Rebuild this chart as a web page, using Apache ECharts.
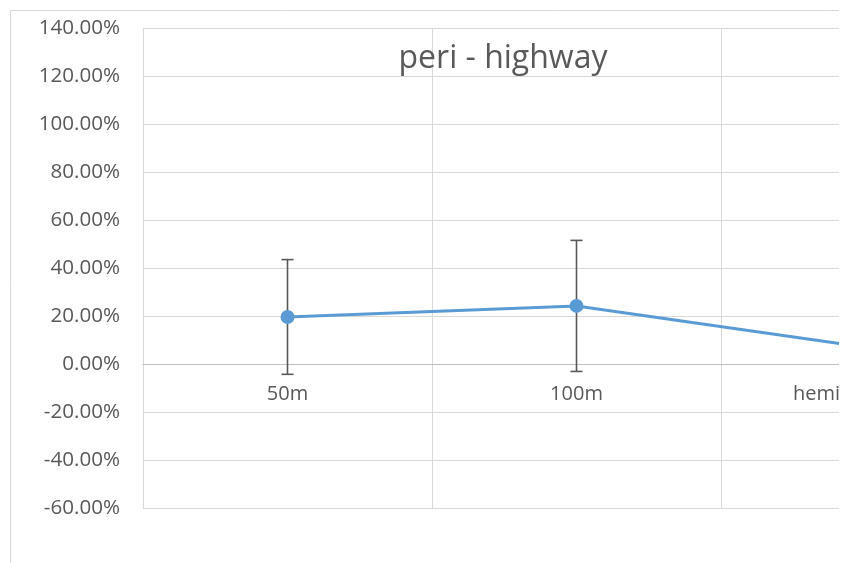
<!DOCTYPE html>
<html>
<head>
<meta charset="utf-8">
<script src="https://cdn.jsdelivr.net/npm/echarts@6/dist/echarts.min.js"></script>
<style>
  html, body { margin: 0; padding: 0; overflow: hidden; background: #fff; }
  #wrap { width: 839px; height: 563px; overflow: hidden; }
  #chart { width: 1100px; height: 563px; }
</style>
</head>
<body>
<div id="wrap"><div id="chart"></div></div>
<script>
// chart data (values in percent)
var categories = ['50m', '100m', 'hemi perimeter'];
var meanValues = [19.6, 24.2, 7.0];
var errorValues = [23.9, 27.3, 20.0];
var yTicks = { min: -60, max: 140, interval: 20 };

var errorData = meanValues.map(function (v, i) {
  return [i, v - errorValues[i], v + errorValues[i]];
});

var chart = echarts.init(document.getElementById('chart'));

var option = {
  animation: false,
  textStyle: { fontFamily: 'Open Sans' },
  title: {
    text: 'peri - highway',
    left: 498,
    top: 38,
    textAlign: 'center',
    textStyle: { fontSize: 32, fontWeight: 'normal', color: '#595959', fontFamily: 'Open Sans' }
  },
  graphic: [{
    type: 'rect',
    shape: { x: 10.5, y: 10.5, width: 1200, height: 600 },
    style: { fill: 'none', stroke: '#d9d9d9', lineWidth: 1 },
    z: -10
  }],
  grid: { left: 143, top: 28, width: 867, height: 480 },
  xAxis: {
    type: 'category',
    data: categories,
    boundaryGap: true,
    offset: -144,
    axisLine: { onZero: false, lineStyle: { color: '#bfbfbf', width: 1 } },
    axisTick: { show: false },
    axisLabel: { color: '#595959', fontSize: 20, margin: 20, interval: 0 },
    splitLine: { show: true, lineStyle: { color: '#d9d9d9', width: 1 } }
  },
  yAxis: {
    type: 'value',
    min: yTicks.min,
    max: yTicks.max,
    interval: yTicks.interval,
    axisLine: { show: false },
    axisTick: { show: false },
    axisLabel: {
      color: '#595959',
      fontSize: 20.6,
      margin: 23,
      formatter: function (v) { return v.toFixed(2) + '%'; }
    },
    splitLine: { lineStyle: { color: '#d9d9d9', width: 1 } }
  },
  series: [{
    type: 'custom',
    z: 1,
    data: errorData,
    renderItem: function (params, api) {
      var lo = api.coord([api.value(0), api.value(1)]);
      var hi = api.coord([api.value(0), api.value(2)]);
      var cap = 6;
      var st = { stroke: '#595959', lineWidth: 1.6 };
      return {
        type: 'group',
        children: [
          { type: 'line', shape: { x1: hi[0], y1: hi[1], x2: lo[0], y2: lo[1] }, style: st },
          { type: 'line', shape: { x1: hi[0] - cap, y1: hi[1], x2: hi[0] + cap, y2: hi[1] }, style: st },
          { type: 'line', shape: { x1: lo[0] - cap, y1: lo[1], x2: lo[0] + cap, y2: lo[1] }, style: st }
        ]
      };
    }
  }, {
    type: 'line',
    z: 3,
    data: meanValues,
    symbol: 'circle',
    symbolSize: 14,
    lineStyle: { color: '#5b9bd5', width: 3 },
    itemStyle: { color: '#5b9bd5' }
  }]
};

chart.setOption(option);
</script>
</body>
</html>
